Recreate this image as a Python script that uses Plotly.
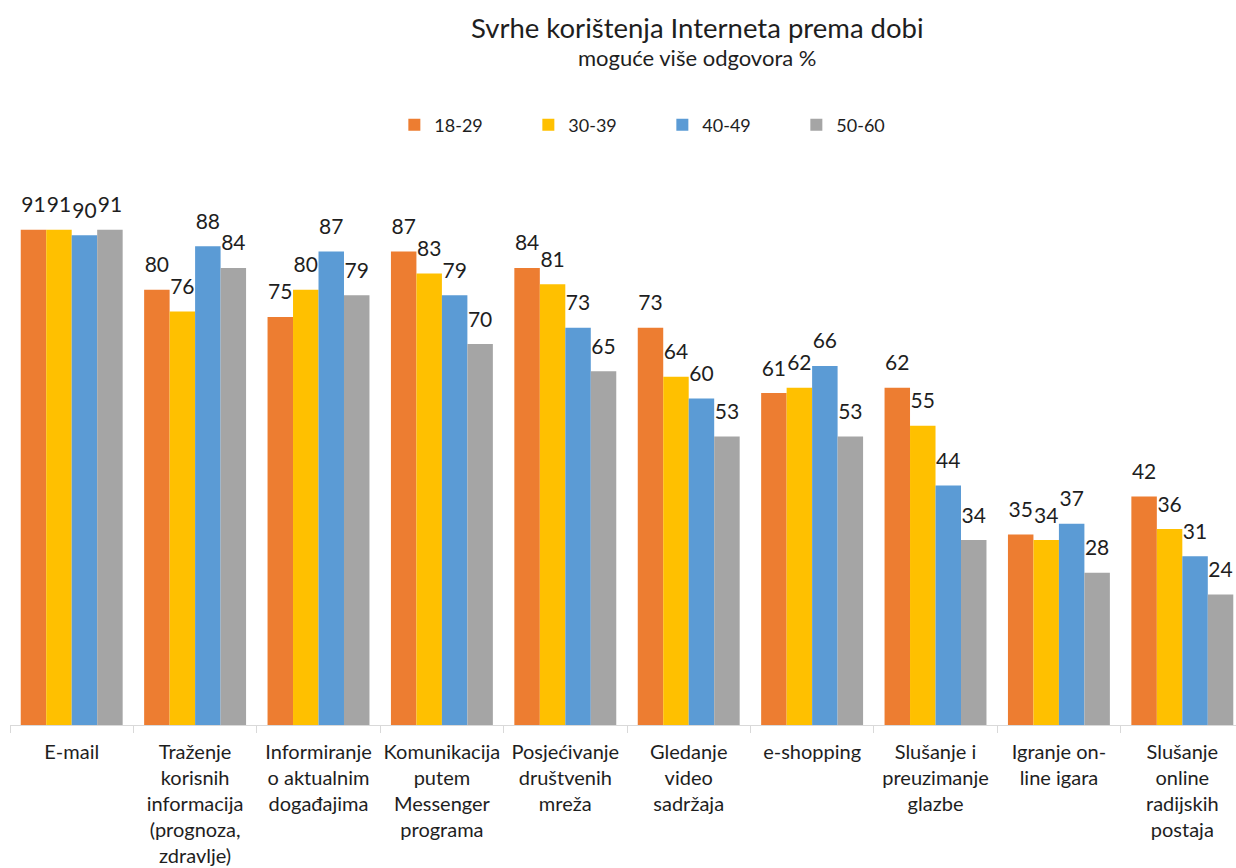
import plotly.graph_objects as go

# categories (x axis) and the four age groups
categories = [
    "E-mail",
    "Traženje<br>korisnih<br>informacija<br>(prognoza,<br>zdravlje)",
    "Informiranje<br>o aktualnim<br>događajima",
    "Komunikacija<br>putem<br>Messenger<br>programa",
    "Posjećivanje<br>društvenih<br>mreža",
    "Gledanje<br>video<br>sadržaja",
    "e-shopping",
    "Slušanje i<br>preuzimanje<br>glazbe",
    "Igranje on-<br>line igara",
    "Slušanje<br>online<br>radijskih<br>postaja",
]
age_18_29 = [91, 80, 75, 87, 84, 73, 61, 62, 35, 42]
age_30_39 = [91, 76, 80, 83, 81, 64, 62, 55, 34, 36]
age_40_49 = [90, 88, 87, 79, 73, 60, 66, 44, 37, 31]
age_50_60 = [91, 84, 79, 70, 65, 53, 53, 34, 28, 24]

FONT = "Lato"
TEXT_COLOR = "#1e1e1e"
GAP = 0.174

series = [
    ("18-29", age_18_29, "#ED7D31"),
    ("30-39", age_30_39, "#FFC000"),
    ("40-49", age_40_49, "#5B9BD5"),
    ("50-60", age_50_60, "#A5A5A5"),
]

fig = go.Figure()
for name, vals, color in series:
    fig.add_trace(
        go.Bar(
            x=categories,
            y=vals,
            name=name,
            marker=dict(color=color, line=dict(width=0)),
            hoverinfo="x+y+name",
        )
    )

# value labels, lifted a bit above the bars like in Excel
for name, vals, color in series:
    fig.add_trace(
        go.Scatter(
            x=categories,
            y=vals,
            mode="markers+text",
            text=vals,
            textposition="top center",
            textfont=dict(family=FONT, size=21, color=TEXT_COLOR),
            marker=dict(size=18, opacity=0),
            showlegend=False,
            hoverinfo="skip",
            cliponaxis=False,
        )
    )

# chart is cropped on the right in the original, so the last category is cut short
fig.update_layout(
    width=1236,
    height=868,
    barmode="group",
    bargap=GAP,
    bargroupgap=0,
    scattermode="group",
    scattergap=GAP,
    plot_bgcolor="white",
    paper_bgcolor="white",
    margin=dict(l=10, r=0, t=170, b=143, autoexpand=False),
    font=dict(family=FONT, color=TEXT_COLOR),
    legend=dict(
        orientation="h",
        x=0.3135,
        xanchor="left",
        y=1.081,
        yanchor="middle",
        font=dict(family=FONT, size=18, color=TEXT_COLOR),
        entrywidth=89,
        traceorder="normal",
    ),
    annotations=[
        dict(
            text="Svrhe korištenja Interneta prema dobi",
            x=0.5604, y=1.256, xref="paper", yref="paper",
            showarrow=False, xanchor="center", yanchor="middle",
            font=dict(family=FONT, size=27.5, color=TEXT_COLOR),
        ),
        dict(
            text="moguće više odgovora %",
            x=0.5604, y=1.202, xref="paper", yref="paper",
            showarrow=False, xanchor="center", yanchor="middle",
            font=dict(family=FONT, size=22, color=TEXT_COLOR),
        ),
    ],
)

fig.update_xaxes(
    type="category",
    range=[-0.5, 9.435],
    showline=True,
    linecolor="#d9d9d9",
    linewidth=1,
    ticks="outside",
    tickson="boundaries",
    ticklen=7,
    tickcolor="#d9d9d9",
    tickfont=dict(family=FONT, size=20, color=TEXT_COLOR),
    tickangle=0,
    automargin=False,
    ticklabelstandoff=9,
    showgrid=False,
)
fig.update_yaxes(range=[0, 102], visible=False, showgrid=False, zeroline=False)

# drop the page margin so the figure sits at the window corner
fig.write_html(
    "out.html",
    config={"displayModeBar": False},
    post_script="document.body.style.margin='0';document.body.style.overflow='hidden';",
)
